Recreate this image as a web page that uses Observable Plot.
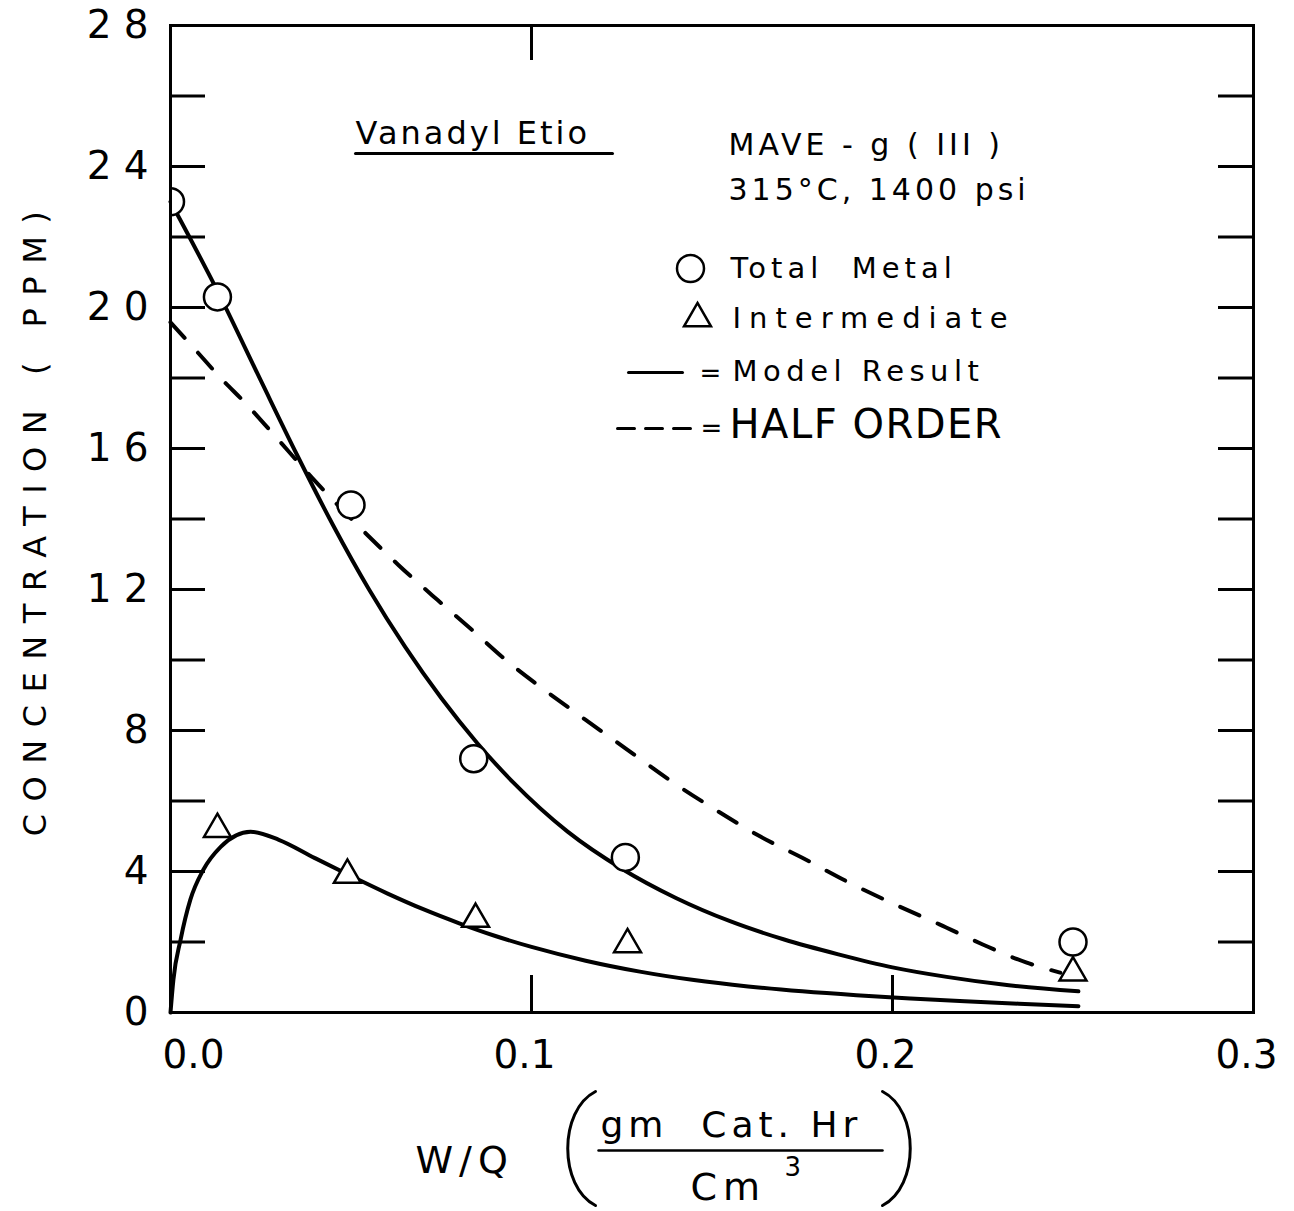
<!DOCTYPE html>
<html>
<head>
<meta charset="utf-8">
<script src="https://cdn.jsdelivr.net/npm/d3@7"></script>
<script src="https://cdn.jsdelivr.net/npm/@observablehq/plot@0.6"></script>
<style>
  body { margin: 0; background: #fff; }
  #chart { width: 1294px; height: 1211px; }
</style>
</head>
<body>
<div id="chart"></div>
<script>
// ---------- data ----------
// Measured total metal (circles)
const totalMetalX = [0.0, 0.013, 0.050, 0.084, 0.126, 0.250];
const totalMetalY = [23.0, 20.3, 14.4, 7.2, 4.4, 2.0];
// Measured intermediate (triangles)
const intermediateX = [0.013, 0.049, 0.0845, 0.1266, 0.250];
const intermediateY = [5.2, 3.9, 2.65, 1.93, 1.13];
// Model result, total metal (solid)
const modelTotalX = [0.0, 0.013, 0.025, 0.035, 0.045, 0.055, 0.065, 0.075, 0.085, 0.095, 0.11, 0.125, 0.14, 0.155, 0.17, 0.185, 0.2, 0.215, 0.23, 0.2515];
const modelTotalY = [23.0, 20.47, 17.93, 15.83, 13.83, 12.0, 10.37, 8.92, 7.64, 6.52, 5.13, 4.08, 3.25, 2.59, 2.07, 1.65, 1.28, 1.01, 0.8, 0.6];
// Model result, intermediate (solid)
const modelInterX = [0.0, 0.0008, 0.0028, 0.0055, 0.0091, 0.0139, 0.0222, 0.03, 0.04, 0.05, 0.06, 0.07, 0.08, 0.09, 0.1, 0.115, 0.13, 0.145, 0.16, 0.175, 0.19, 0.205, 0.22, 0.235, 0.2515];
const modelInterY = [0.0, 0.93, 2.07, 3.2, 4.05, 4.7, 5.13, 4.9, 4.38, 3.87, 3.38, 2.93, 2.53, 2.17, 1.86, 1.47, 1.16, 0.92, 0.74, 0.6, 0.49, 0.4, 0.32, 0.25, 0.18];
// Half order (dashed)
const halfOrderX = [0.0, 0.0075, 0.0139, 0.0208, 0.0277, 0.0393, 0.0546, 0.0632, 0.074, 0.083, 0.0936, 0.1044, 0.115, 0.1266, 0.139, 0.151, 0.1634, 0.175, 0.1875, 0.2008, 0.213, 0.225, 0.237, 0.2465];
const halfOrderY = [19.58, 18.73, 18.0, 17.28, 16.5, 15.16, 13.54, 12.69, 11.7, 10.9, 9.94, 9.09, 8.3, 7.45, 6.54, 5.75, 4.99, 4.39, 3.71, 3.06, 2.5, 1.93, 1.42, 1.13];

// axis ticks / labels
const xTickLabels = [0.0, 0.1, 0.2, 0.3];
const yTickLabels = [0, 4, 8, 12, 16, 20, 24, 28];
const yTickMarks = [2, 4, 6, 8, 10, 12, 14, 16, 18, 20, 22, 24, 26];
const xTickTop = [0.1];
const xTickBottom = [0.1, 0.2];

// texts
const titleText = "Vanadyl Etio";
const sampleText = "MAVE - g ( III )";
const conditionText = "315°C, 1400 psi";
const legendTotal = "Total  Metal";
const legendInter = "Intermediate";
const legendModel = "Model Result";
const legendHalf = "HALF ORDER";
const yLabel = "CONCENTRATION ( PPM)";
const xLabel = "W/Q";
const xUnitNum = "gm  Cat. Hr";
const xUnitDen = "Cm";
const xUnitExp = "3";

// ---------- build tables ----------
const zip = (xs, ys) => xs.map((x, i) => ({x, y: ys[i]}));
const totalPts = zip(totalMetalX, totalMetalY);
const interPts = zip(intermediateX, intermediateY);
const modelTotal = zip(modelTotalX, modelTotalY);
const modelInter = zip(modelInterX, modelInterY);
const halfOrder = zip(halfOrderX, halfOrderY);

// ---------- layout ----------
const W = 1294, H = 1211, mL = 170, mR = 41, mT = 25, mB = 199;
const fw = W - mL - mR, fh = H - mT - mB;
const tickLen = 35;
const FONT = "DejaVu Sans";

const hline = {draw(ctx, l) { ctx.moveTo(0, 0); ctx.lineTo(0, -l); }};
const lparen = {draw(ctx) { ctx.moveTo(13, -57); ctx.bezierCurveTo(-24, -38, -24, 38, 13, 57); }};
const rparen = {draw(ctx) { ctx.moveTo(-13, -57); ctx.bezierCurveTo(24, -38, 24, 38, -13, 57); }};

function label(str, px, py, opts = {}) {
  return Plot.text([str], {
    text: d => d, frameAnchor: "top-left", dx: px - mL, dy: py - mT,
    textAnchor: "start", lineAnchor: "middle", fill: "black", fontSize: 29, ...opts
  });
}
function seg(px, py, len, opts = {}) {
  return Plot.vector([0], {
    frameAnchor: "top-left", dx: px - mL, dy: py - mT, length: len, rotate: 90,
    anchor: "start", shape: hline, stroke: "black", strokeWidth: 3, ...opts
  });
}
function shapeAt(shape, px, py) {
  return Plot.vector([0], {
    frameAnchor: "top-left", dx: px - mL, dy: py - mT, length: 1, rotate: 0,
    anchor: "start", shape, stroke: "black", strokeWidth: 3
  });
}
function symbolAt(symbol, r, px, py) {
  return Plot.dot([0], {
    frameAnchor: "top-left", dx: px - mL, dy: py - mT, symbol, r,
    stroke: "black", strokeWidth: 2.5, fill: "white"
  });
}

const chart = Plot.plot({
  width: W, height: H,
  marginLeft: mL, marginRight: mR, marginTop: mT, marginBottom: mB,
  x: {domain: [0, 0.3], label: null},
  y: {domain: [0, 28], label: null},
  style: {fontFamily: FONT, color: "black", background: "white", overflow: "visible"},
  marks: [
    Plot.line(modelTotal, {x: "x", y: "y", curve: "monotone-x", stroke: "black", strokeWidth: 4}),
    Plot.line(modelInter, {x: "x", y: "y", curve: "monotone-x", stroke: "black", strokeWidth: 4}),
    Plot.line(halfOrder, {x: "x", y: "y", curve: "monotone-x", stroke: "black", strokeWidth: 4, strokeDasharray: "21,20"}),
    Plot.dot(totalPts, {x: "x", y: "y", r: 13.5, stroke: "black", strokeWidth: 2.5, fill: "white", clip: true}),
    Plot.dot(interPts, {x: "x", y: "y", symbol: "triangle", r: 10, stroke: "black", strokeWidth: 2.5, fill: "white"}),
    // inward ticks
    Plot.ruleY(yTickMarks, {insetRight: fw - tickLen, strokeWidth: 3}),
    Plot.ruleY(yTickMarks, {insetLeft: fw - tickLen, strokeWidth: 3}),
    Plot.ruleX(xTickTop, {insetBottom: fh - tickLen, strokeWidth: 3}),
    Plot.ruleX(xTickBottom, {insetTop: fh - tickLen - 2, strokeWidth: 3}),
    Plot.frame({stroke: "black", strokeWidth: 3}),
    // tick labels
    Plot.axisY({ticks: yTickLabels, tickSize: 0, tickPadding: 10, fontSize: 39, tickFormat: d => String(d), label: null}),
    Plot.axisX({ticks: [xTickLabels[0]], tickSize: 0, tickPadding: 28, fontSize: 39, dx: 23, tickFormat: d3.format(".1f"), label: null}),
    Plot.axisX({ticks: xTickLabels.slice(1), tickSize: 0, tickPadding: 28, fontSize: 39, dx: -7, tickFormat: d3.format(".1f"), label: null}),
    // annotations
    label(titleText, 355, 133, {fontSize: 32}),
    seg(355, 153, 257, {strokeWidth: 3}),
    label(sampleText, 728, 145, {fontSize: 30}),
    label(conditionText, 728, 190, {fontSize: 30}),
    symbolAt("circle", 13.5, 690, 268),
    label(legendTotal, 730, 268),
    symbolAt("triangle", 10, 697, 318),
    label(legendInter, 732, 318),
    seg(628, 372, 54),
    label("=", 699, 373, {fontSize: 26}),
    label(legendModel, 732, 371),
    seg(617, 428, 73, {strokeDasharray: "17,11"}),
    label("=", 700, 428, {fontSize: 26}),
    label(legendHalf, 729, 425, {fontSize: 40}),
    // axis titles
    label(yLabel, 35, 517, {rotate: -90, textAnchor: "middle", fontSize: 32}),
    label(xLabel, 415, 1160, {fontSize: 38}),
    label(xUnitNum, 600, 1125, {fontSize: 36}),
    seg(598, 1150, 284, {strokeWidth: 2.5}),
    label(xUnitDen, 690, 1187, {fontSize: 38}),
    label(xUnitExp, 784, 1167, {fontSize: 26}),
    shapeAt(lparen, 582, 1148),
    shapeAt(rparen, 895, 1148)
  ]
});

// letter spacing to mimic the lettering of the original
const spacing = new Map([
  [titleText, 3], [sampleText, 4], [conditionText, 4],
  [legendTotal, 5], [legendInter, 8], [legendModel, 5.5], [legendHalf, 1.5],
  [yLabel, 12.5], [xLabel, 6], [xUnitNum, 5], [xUnitDen, 6]
]);
chart.querySelectorAll("text").forEach(t => {
  const s = t.textContent;
  if (spacing.has(s)) t.style.letterSpacing = spacing.get(s) + "px";
});
chart.querySelectorAll('g[aria-label="y-axis tick label"] text').forEach(t => {
  t.style.letterSpacing = "12px";
});
document.getElementById("chart").appendChild(chart);
</script>
</body>
</html>
